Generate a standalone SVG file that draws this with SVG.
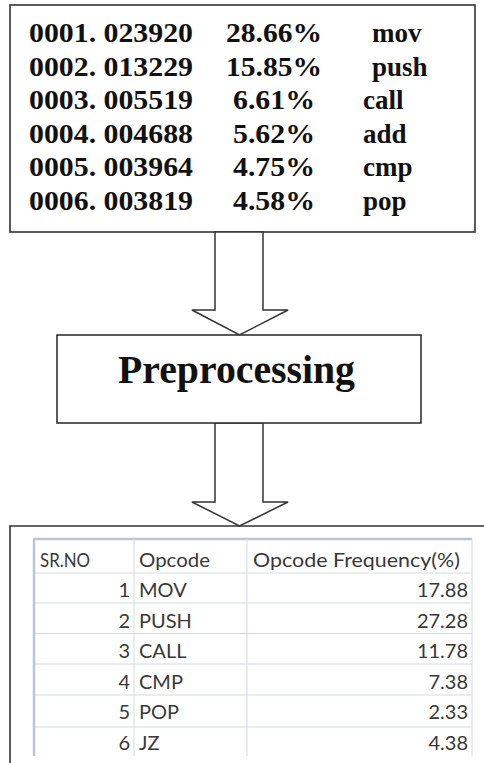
<svg xmlns="http://www.w3.org/2000/svg" width="484" height="763" viewBox="0 0 484 763">
<style>
.box{fill:#fff;stroke:#333;stroke-width:1.6}
.arrow{fill:#fff;stroke:#333;stroke-width:1.5;stroke-linejoin:miter}
.tn{font-family:"Liberation Serif","Times New Roman",serif;font-weight:bold;font-size:27px;fill:#111}
.tt{font-family:Lato,"Open Sans",sans-serif;font-size:20px;fill:#383838}
.grid{stroke:#d3dae4;stroke-width:1}
.gridh{stroke:#b9c5d6;stroke-width:2.5}
</style>
<rect width="484" height="763" fill="#fff"/>
<g id="input">
<rect class="box" x="10" y="5" width="465" height="227"/>
<text class="tn" x="29" y="42" textLength="164" lengthAdjust="spacingAndGlyphs">0001. 023920</text>
<text class="tn" x="29" y="75.5" textLength="164" lengthAdjust="spacingAndGlyphs">0002. 013229</text>
<text class="tn" x="29" y="109" textLength="164" lengthAdjust="spacingAndGlyphs">0003. 005519</text>
<text class="tn" x="29" y="142.5" textLength="164" lengthAdjust="spacingAndGlyphs">0004. 004688</text>
<text class="tn" x="29" y="176" textLength="164" lengthAdjust="spacingAndGlyphs">0005. 003964</text>
<text class="tn" x="29" y="209.5" textLength="164" lengthAdjust="spacingAndGlyphs">0006. 003819</text>
<text class="tn" x="274" y="42" text-anchor="middle" textLength="96" lengthAdjust="spacingAndGlyphs">28.66%</text>
<text class="tn" x="274" y="75.5" text-anchor="middle" textLength="96" lengthAdjust="spacingAndGlyphs">15.85%</text>
<text class="tn" x="274" y="109" text-anchor="middle" textLength="82" lengthAdjust="spacingAndGlyphs">6.61%</text>
<text class="tn" x="274" y="142.5" text-anchor="middle" textLength="82" lengthAdjust="spacingAndGlyphs">5.62%</text>
<text class="tn" x="274" y="176" text-anchor="middle" textLength="82" lengthAdjust="spacingAndGlyphs">4.75%</text>
<text class="tn" x="274" y="209.5" text-anchor="middle" textLength="82" lengthAdjust="spacingAndGlyphs">4.58%</text>
<text class="tn" x="372" y="42">mov</text>
<text class="tn" x="372" y="75.5">push</text>
<text class="tn" x="363" y="109">call</text>
<text class="tn" x="363" y="142.5">add</text>
<text class="tn" x="363" y="176">cmp</text>
<text class="tn" x="363" y="209.5">pop</text>
</g>
<g id="connectors">
<polygon class="arrow" points="215,232 263,232 263,310 288,310 239.5,335 192,310 215,310"/>
<polygon class="arrow" points="215,423 263,423 263,502 288,502 239.5,526 192,502 215,502"/>
</g>
<g id="preprocessing">
<rect class="box" x="57" y="335" width="364" height="88"/>
<text x="118" y="383" font-family="Liberation Serif,'Times New Roman',serif" font-weight="bold" font-size="40" fill="#111" textLength="237" lengthAdjust="spacingAndGlyphs">Preprocessing</text>
</g>
<g id="output">
<path d="M484,526 H10 V763" fill="none" stroke="#333" stroke-width="1.6"/>
<g>
<line class="gridh" x1="33" y1="539" x2="472" y2="539"/>
<line class="grid" x1="33" y1="573" x2="472" y2="573"/>
<line class="grid" x1="33" y1="603" x2="472" y2="603"/>
<line class="grid" x1="33" y1="633.5" x2="472" y2="633.5"/>
<line class="grid" x1="33" y1="664" x2="472" y2="664"/>
<line class="grid" x1="33" y1="695" x2="472" y2="695"/>
<line class="grid" x1="33" y1="727" x2="472" y2="727"/>
<line class="gridh" x1="34" y1="539" x2="34" y2="756"/>
<line class="grid" x1="134" y1="539" x2="134" y2="756"/>
<line class="grid" x1="247" y1="539" x2="247" y2="756"/>
<line class="grid" x1="472" y1="539" x2="472" y2="756"/>
</g>
<text class="tt" x="40" y="567" textLength="50" lengthAdjust="spacingAndGlyphs">SR.NO</text>
<text class="tt" x="139" y="567" textLength="71" lengthAdjust="spacingAndGlyphs">Opcode</text>
<text class="tt" x="253" y="567" textLength="207" lengthAdjust="spacingAndGlyphs">Opcode Frequency(%)</text>
<g text-anchor="end">
<text class="tt" x="130" y="597">1</text>
<text class="tt" x="130" y="628">2</text>
<text class="tt" x="130" y="658">3</text>
<text class="tt" x="130" y="688.5">4</text>
<text class="tt" x="130" y="719">5</text>
<text class="tt" x="130" y="750">6</text>
<text class="tt" x="468" y="597">17.88</text>
<text class="tt" x="468" y="628">27.28</text>
<text class="tt" x="468" y="658">11.78</text>
<text class="tt" x="468" y="688.5">7.38</text>
<text class="tt" x="468" y="719">2.33</text>
<text class="tt" x="468" y="750">4.38</text>
</g>
<text class="tt" x="139" y="597">MOV</text>
<text class="tt" x="139" y="628">PUSH</text>
<text class="tt" x="139" y="658">CALL</text>
<text class="tt" x="139" y="688.5">CMP</text>
<text class="tt" x="139" y="719">POP</text>
<text class="tt" x="139" y="750">JZ</text>
</g>
</svg>
